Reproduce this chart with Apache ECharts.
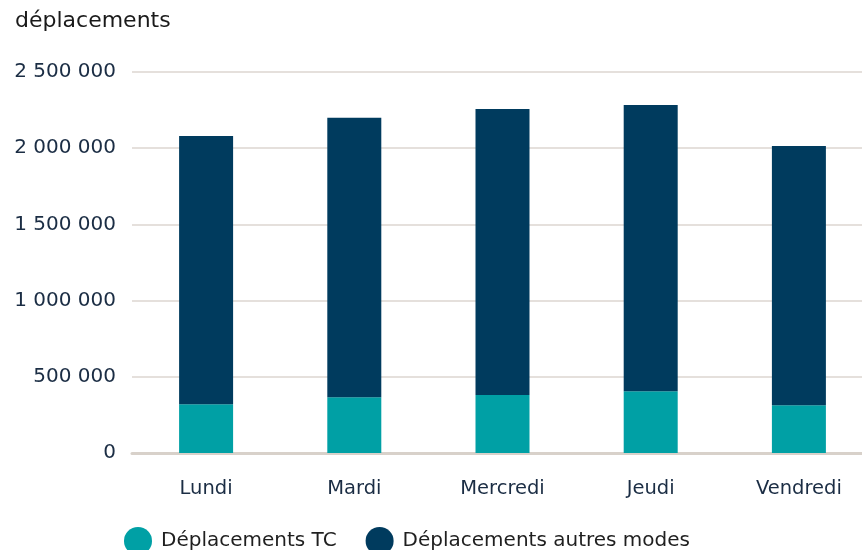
<!DOCTYPE html>
<html>
<head>
<meta charset="utf-8">
<script src="https://cdn.jsdelivr.net/npm/echarts@6/dist/echarts.min.js"></script>
<style>html,body{margin:0;padding:0;background:#fff;}#c{width:862px;height:550px;}</style>
</head>
<body>
<div id="c"></div>
<script>
const categories = ['Lundi', 'Mardi', 'Mercredi', 'Jeudi', 'Vendredi'];
const deplacementsTC = [320000, 366000, 380000, 406000, 314000];
const deplacementsAutres = [1760000, 1833000, 1878000, 1878000, 1701000];
const seriesNames = ['Déplacements TC', 'Déplacements autres modes'];
const yTitle = 'déplacements';

function fmt(v) {
  return String(v).replace(/\B(?=(\d{3})+(?!\d))/g, ' ');
}

const FF = '"DejaVu Sans", sans-serif';
const chart = echarts.init(document.getElementById('c'));
chart.setOption({
  animation: false,
  textStyle: { fontFamily: FF },
  title: {
    text: yTitle, left: 10, top: 5,
    textStyle: { fontSize: 22, fontWeight: 'normal', color: '#1a1a1a', fontFamily: FF }
  },
  legend: {
    left: 119, top: 522, icon: 'circle', itemWidth: 28, itemHeight: 28, itemGap: 29,
    textStyle: { fontSize: 20, color: '#1f1f1f', padding: [0, 0, 0, 4], fontFamily: FF },
    data: seriesNames
  },
  grid: { left: 132, width: 741, top: 72, bottom: 97, containLabel: false, outerBoundsMode: 'none' },
  xAxis: {
    type: 'category', data: categories,
    axisLine: { show: true, lineStyle: { color: '#d8d1ca', width: 3 } },
    axisTick: { show: false },
    axisLabel: { fontSize: 19.5, color: '#1b2d44', margin: 26, fontFamily: FF }
  },
  yAxis: {
    type: 'value', min: 0, max: 2500000, interval: 500000,
    axisLine: { show: false }, axisTick: { show: false },
    splitLine: { lineStyle: { color: '#ddd6d0', width: 1.5 } },
    axisLabel: { fontSize: 20, color: '#1b2d44', margin: 16, fontFamily: FF, formatter: fmt }
  },
  series: [
    { name: seriesNames[0], type: 'bar', stack: 'total', data: deplacementsTC, barWidth: 54, itemStyle: { color: '#00a0a5' } },
    { name: seriesNames[1], type: 'bar', stack: 'total', data: deplacementsAutres, barWidth: 54, itemStyle: { color: '#003b5e' } }
  ]
});
</script>
</body>
</html>
